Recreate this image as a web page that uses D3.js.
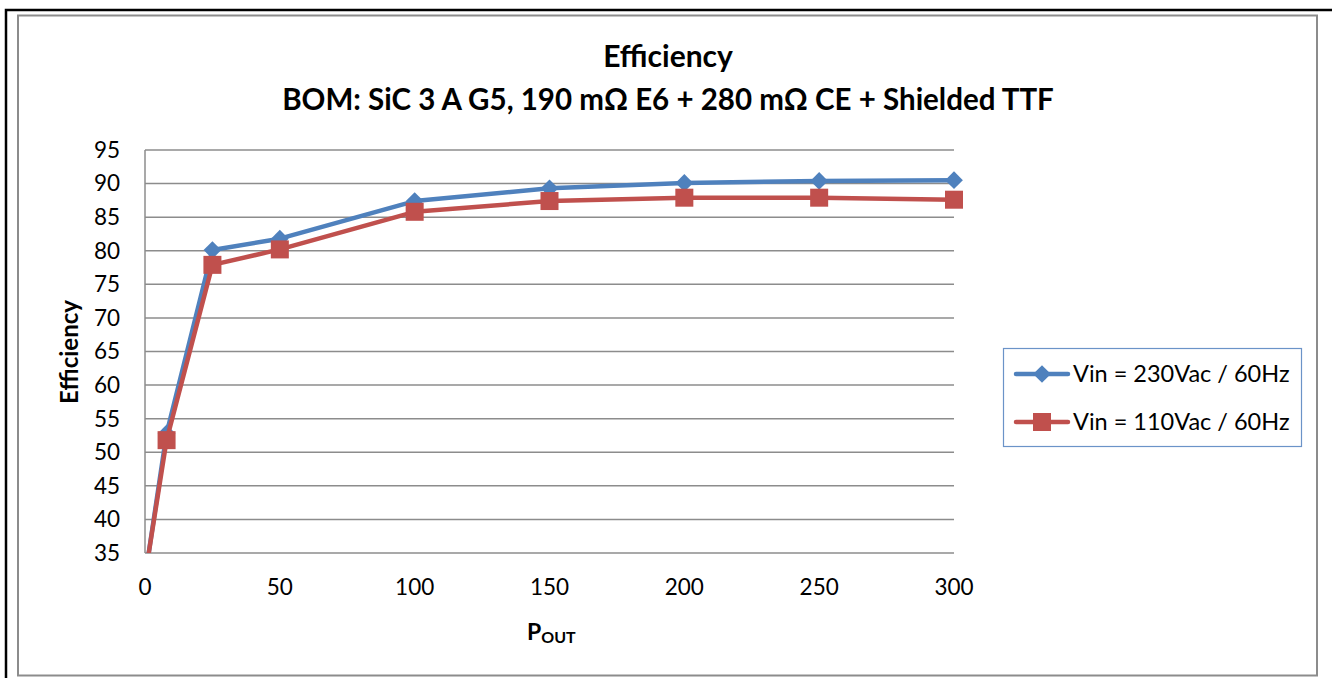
<!DOCTYPE html>
<html>
<head>
<meta charset="utf-8">
<script src="https://cdn.jsdelivr.net/npm/d3@7"></script>
<style>
  body { margin: 0; background: #fff; }
  svg { display: block; font-family: Lato, "Open Sans", sans-serif; }
</style>
</head>
<body>
<svg id="chart" width="1332" height="678"></svg>
<script>
// data
var pout = [1, 8, 25, 50, 100, 150, 200, 250, 300];
var eff230 = [34, 52.8, 80.1, 81.8, 87.4, 89.3, 90.1, 90.4, 90.5];
var eff110 = [34, 51.8, 77.9, 80.2, 85.8, 87.4, 87.9, 87.9, 87.6];
var seriesNames = ["Vin = 230Vac / 60Hz", "Vin = 110Vac / 60Hz"];
var xTicks = [0, 50, 100, 150, 200, 250, 300];
var yTicks = [35, 40, 45, 50, 55, 60, 65, 70, 75, 80, 85, 90, 95];

var blue = "#4F81BD", red = "#C0504D", grid = "#8c8c8c";

var svg = d3.select("#chart");

// frames
svg.append("rect").attr("x", 6).attr("y", 10).attr("width", 1340).attr("height", 700)
  .attr("fill", "none").attr("stroke", "#000").attr("stroke-width", 2.5);
svg.append("rect").attr("x", 18).attr("y", 15.5).attr("width", 1299).attr("height", 660)
  .attr("fill", "#fff").attr("stroke", "#8c8c8c").attr("stroke-width", 2);

var x = d3.scaleLinear().domain([0, 300]).range([145, 954]);
var y = d3.scaleLinear().domain([35, 95]).range([553, 150]);

// gridlines
svg.append("g").selectAll("line").data(yTicks).enter().append("line")
  .attr("x1", x(0)).attr("x2", x(300))
  .attr("y1", d => y(d)).attr("y2", d => y(d))
  .attr("stroke", grid).attr("stroke-width", 1.5);
svg.append("line").attr("x1", x(0)).attr("x2", x(0))
  .attr("y1", y(95)).attr("y2", y(35))
  .attr("stroke", grid).attr("stroke-width", 1.5);

// axis labels
svg.append("g").selectAll("text").data(yTicks).enter().append("text")
  .attr("x", 120).attr("y", d => y(d)).attr("dy", "0.35em")
  .attr("text-anchor", "end").attr("font-size", 22.5).text(d => d);
svg.append("g").selectAll("text").data(xTicks).enter().append("text")
  .attr("x", d => x(d)).attr("y", 595)
  .attr("text-anchor", "middle").attr("font-size", 22.5).text(d => d);

// titles
svg.append("text").attr("x", 668).attr("y", 67).attr("text-anchor", "middle")
  .attr("font-size", 30).attr("font-weight", "bold").text("Efficiency");
svg.append("text").attr("x", 668).attr("y", 110).attr("text-anchor", "middle")
  .attr("font-size", 29.5).attr("font-weight", "bold")
  .text("BOM: SiC 3 A G5, 190 m\u03A9 E6 + 280 m\u03A9 CE + Shielded TTF");

svg.append("text").attr("transform", "translate(78,352) rotate(-90)")
  .attr("text-anchor", "middle").attr("font-size", 24).attr("font-weight", "bold")
  .text("Efficiency");

var xl = svg.append("text").attr("x", 527).attr("y", 640)
  .attr("font-size", 23).attr("font-weight", "bold");
xl.append("tspan").text("P");
xl.append("tspan").attr("font-size", 16).attr("dy", 3).text("OUT");

// clip to plot area
svg.append("clipPath").attr("id", "plotclip").append("rect")
  .attr("x", 130).attr("y", 140).attr("width", 850).attr("height", y(35) - 140);

var line = d3.line().x(d => x(d[0])).y(d => y(d[1]));
var d230 = pout.map((p, i) => [p, eff230[i]]);
var d110 = pout.map((p, i) => [p, eff110[i]]);

var plot = svg.append("g").attr("clip-path", "url(#plotclip)");
plot.append("path").datum(d230).attr("d", line)
  .attr("fill", "none").attr("stroke", blue).attr("stroke-width", 4.5).attr("stroke-linejoin", "round");
plot.append("g").selectAll("path").data(d230.filter(d => d[1] >= 35)).enter().append("path")
  .attr("d", d3.symbol(d3.symbolDiamond2, 200))
  .attr("transform", d => "translate(" + x(d[0]) + "," + y(d[1]) + ")")
  .attr("fill", blue);

plot.append("path").datum(d110).attr("d", line)
  .attr("fill", "none").attr("stroke", red).attr("stroke-width", 4.5).attr("stroke-linejoin", "round");
plot.append("g").selectAll("rect").data(d110.filter(d => d[1] >= 35)).enter().append("rect")
  .attr("x", d => x(d[0]) - 9).attr("y", d => y(d[1]) - 9)
  .attr("width", 18).attr("height", 18).attr("fill", red);

// legend
var lg = svg.append("g");
lg.append("rect").attr("x", 1003.5).attr("y", 348.5).attr("width", 298).attr("height", 98)
  .attr("fill", "#fff").attr("stroke", "#6b93c8").attr("stroke-width", 1.2);
var colors = [blue, red];
seriesNames.forEach(function(name, i) {
  var cy = 374 + i * 48;
  lg.append("line").attr("x1", 1016).attr("x2", 1068).attr("y1", cy).attr("y2", cy)
    .attr("stroke", colors[i]).attr("stroke-width", 4.5).attr("stroke-linecap", "round");
  if (i === 0) {
    lg.append("path").attr("d", d3.symbol(d3.symbolDiamond2, 200))
      .attr("transform", "translate(1042," + cy + ")").attr("fill", blue);
  } else {
    lg.append("rect").attr("x", 1033).attr("y", cy - 9).attr("width", 18).attr("height", 18).attr("fill", red);
  }
  lg.append("text").attr("x", 1073).attr("y", cy).attr("dy", "0.35em")
    .attr("font-size", 23.5).text(name);
});
</script>
</body>
</html>
